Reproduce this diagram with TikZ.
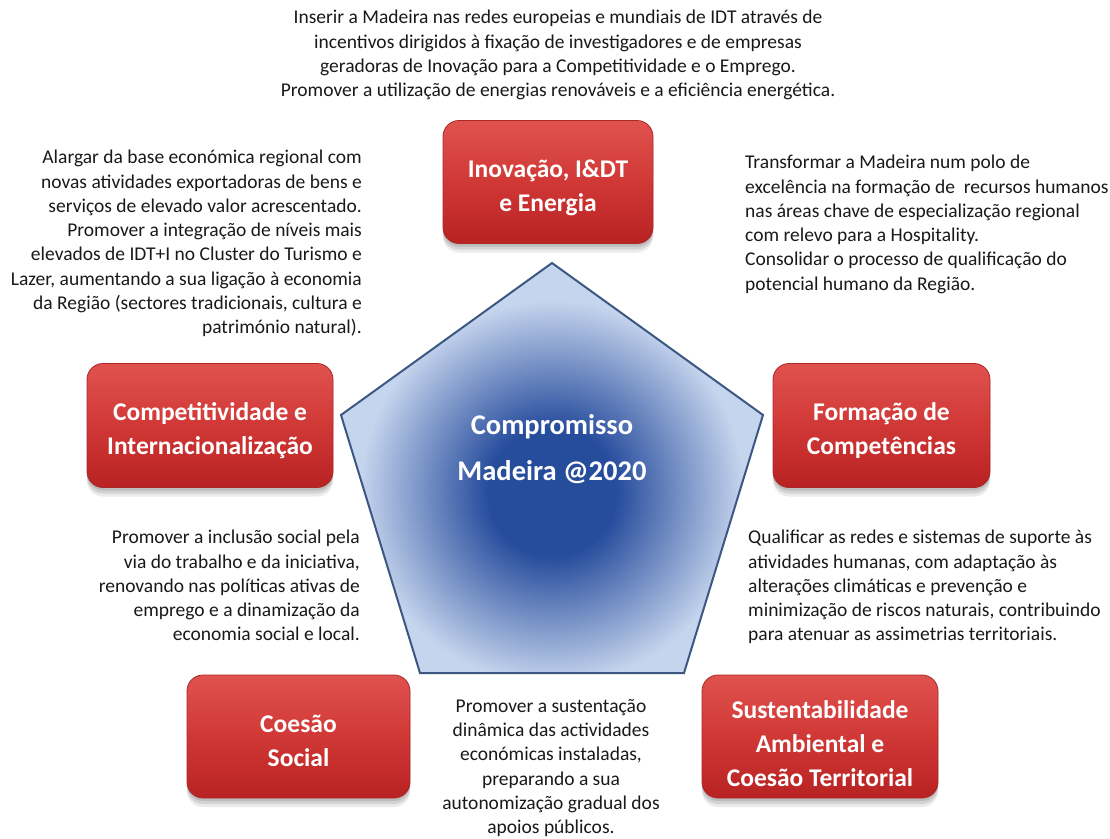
\documentclass[tikz,border=0pt]{standalone}
\usepackage{fontspec}
\setmainfont{Carlito}
\usetikzlibrary{shadows}
\definecolor{txt}{RGB}{25,25,25}
\definecolor{rtop}{RGB}{224,82,78}
\definecolor{rmid}{RGB}{208,56,54}
\definecolor{rbot}{RGB}{184,34,34}
\definecolor{redge}{RGB}{170,40,40}
\definecolor{pdark}{RGB}{38,76,156}
\definecolor{plight}{RGB}{198,213,238}
\definecolor{pedge}{RGB}{60,88,130}
\pgfdeclareradialshading{glow}{\pgfpoint{0bp}{0bp}}{color(0bp)=(pdark); color(8bp)=(pdark); color(24bp)=(plight); color(50bp)=(plight)}
\tikzset{
  redbox/.style={rounded corners=16pt, top color=rtop, bottom color=rbot, middle color=rmid,
    draw=redge, line width=0.8pt, inner sep=0pt,
    general shadow={fill=black, opacity=0.10, shadow yshift=-3pt},
    general shadow={fill=black, opacity=0.10, shadow yshift=-6pt},
    general shadow={fill=black, opacity=0.08, shadow yshift=-9pt}},
  boxtext/.style={text=white, align=center, inner sep=0pt,
    font=\fontsize{25.5}{34}\selectfont\bfseries},
  body/.style={text=txt, inner sep=0pt, font=\fontsize{19.5}{24.3}\selectfont},
  centertext/.style={text=white, align=center, inner sep=0pt, font=\fontsize{28.5}{46}\selectfont\bfseries}
}
\begin{document}
\begin{tikzpicture}[x=1pt,y=-1pt]
\useasboundingbox[fill=white] (0,0) rectangle (1110,838);
% pentagon
\coordinate (pT) at (552,263);
\coordinate (pR) at (763,415);
\coordinate (pBR) at (684,673);
\coordinate (pBL) at (420,673);
\coordinate (pL) at (341,415);
\begin{scope}
\clip (pT)--(pR)--(pBR)--(pBL)--(pL)--cycle;
\fill[plight] (pT)--(pR)--(pBR)--(pBL)--(pL)--cycle;
\shade[shading=glow] (552,492) circle (200pt);
\end{scope}
\draw[pedge, line width=2pt, line join=miter] (pT)--(pR)--(pBR)--(pBL)--(pL)--cycle;
\node[centertext] (center) at (552,449) {Compromisso\\Madeira @2020};

% red boxes
\node[redbox, minimum width=210pt, minimum height=123pt] (inov) at (548,182) {};
\node[boxtext] (inovt) at ([yshift=-6pt]inov.center) {Inovação, I\&DT\\e Energia};
\node[redbox, minimum width=246pt, minimum height=124pt] (comp) at (210,425.5) {};
\node[boxtext] (compt) at ([yshift=-5pt]comp.center) {Competitividade e\\Internacionalização};
\node[redbox, minimum width=217pt, minimum height=124pt] (form) at (881.5,425.5) {};
\node[boxtext] (formt) at ([yshift=-5pt]form.center) {Formação de\\Competências};
\node[redbox, minimum width=223pt, minimum height=123pt] (coes) at (298.5,736.5) {};
\node[boxtext] (coest) at ([yshift=-4pt]coes.center) {Coesão\\Social};
\node[redbox, minimum width=236pt, minimum height=123pt] (sust) at (820,736.5) {};
\node[boxtext] (sustt) at ([yshift=-7pt]sust.center) {Sustentabilidade\\Ambiental e\\Coesão Territorial};

% texts
\node[body, align=center, anchor=north] (ttop) at (558,10) {Inserir a Madeira nas redes europeias e mundiais de IDT através de\\incentivos dirigidos à fixação de investigadores e de empresas\\geradoras de Inovação para a Competitividade e o Emprego.\\Promover a utilização de energias renováveis e a eficiência energética.};
\node[body, align=right, anchor=north east] (tlt) at (362,150) {Alargar da base económica regional com\\novas atividades exportadoras de bens e\\serviços de elevado valor acrescentado.\\Promover a integração de níveis mais\\elevados de IDT+I no Cluster do Turismo e\\Lazer, aumentando a sua ligação à economia\\da Região (sectores tradicionais, cultura e\\património natural).};
\node[body, align=left, anchor=north west] (trt) at (745,155) {Transformar a Madeira num polo de\\excelência na formação de \ recursos humanos\\nas áreas chave de especialização regional\\com relevo para a Hospitality.\\Consolidar o processo de qualificação do\\potencial humano da Região.};
\node[body, align=right, anchor=north east] (tlb) at (360,530) {Promover a inclusão social pela\\via do trabalho e da iniciativa,\\renovando nas políticas ativas de\\emprego e a dinamização da\\economia social e local.};
\node[body, align=left, anchor=north west] (trb) at (748,530) {Qualificar as redes e sistemas de suporte às\\atividades humanas, com adaptação às\\alterações climáticas e prevenção e\\minimização de riscos naturais, contribuindo\\para atenuar as assimetrias territoriais.};
\node[body, align=center, anchor=north] (tbot) at (551,699) {Promover a sustentação\\dinâmica das actividades\\económicas instaladas,\\preparando a sua\\autonomização gradual dos\\apoios públicos.};
\end{tikzpicture}
\end{document}
